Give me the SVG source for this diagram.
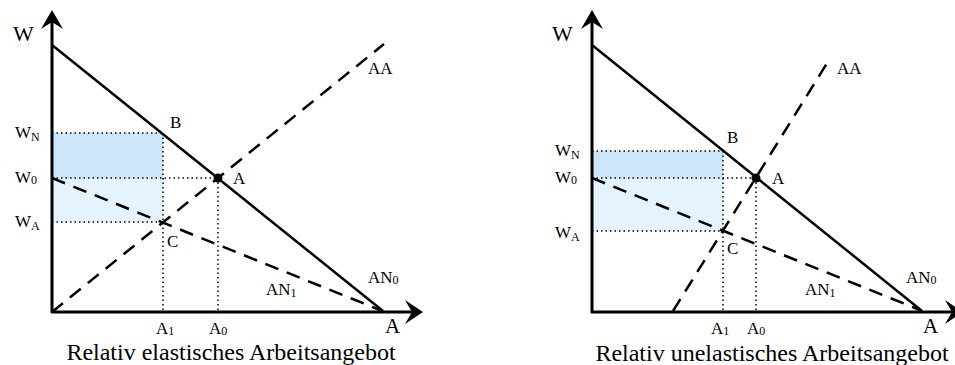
<svg xmlns="http://www.w3.org/2000/svg" width="955" height="365" viewBox="0 0 955 365">
<style>
text{font-family:"Liberation Serif","Times New Roman",serif;fill:#000}
.lbl{font-size:17px}
.big{font-size:22px}
.ax{font-size:21px}
.cap{font-size:24px;text-anchor:middle}
.sub{font-size:12px}
.axis{stroke:#000;stroke-width:3;fill:none}
.solid{stroke:#000;stroke-width:2.5;fill:none}
.dash{stroke:#000;stroke-width:2.5;fill:none;stroke-dasharray:14 9}
.dot{stroke:#000;stroke-width:1.5;fill:none;stroke-dasharray:1.5 3}
.dark{fill:#cbe6fb}
.light{fill:#e5f3fe}
.head{fill:#000}
</style>
<rect width="955" height="365" fill="#fff"/>
<g id="left-chart">
  <g id="left-areas">
    <rect class="dark" x="52" y="133" width="111" height="45"/>
    <rect class="light" x="52" y="178" width="111" height="44"/>
  </g>
  <g id="left-connectors">
    <line class="dot" x1="52" y1="133" x2="163" y2="133"/>
    <line class="dot" x1="52" y1="178" x2="218" y2="178"/>
    <line class="dot" x1="52" y1="222" x2="163" y2="222"/>
    <line class="dot" x1="163" y1="133" x2="163" y2="311"/>
    <line class="dot" x1="218" y1="178" x2="218" y2="311"/>
    <line class="solid" x1="52" y1="45" x2="383" y2="311"/>
    <line class="dash" x1="52" y1="178" x2="380" y2="310"/>
    <line class="dash" x1="52" y1="312" x2="384" y2="44"/>
    <line class="axis" x1="52" y1="313" x2="52" y2="20"/>
    <line class="axis" x1="51" y1="312" x2="413" y2="312"/>
    <polygon class="head" points="52,10 63,29 52,22 41,29"/>
    <polygon class="head" points="423,312 405,300 412,312 405,324"/>
  </g>
  <g id="left-point-A"><circle cx="218" cy="178" r="4.5" fill="#000"/></g>
  <g id="left-labels">
    <text class="big" x="13" y="41">W</text>
    <text class="lbl" x="15" y="138">W<tspan class="sub" dy="3">N</tspan></text>
    <text class="lbl" x="15" y="183">W<tspan class="sub" dy="1">0</tspan></text>
    <text class="lbl" x="15" y="227">W<tspan class="sub" dy="3">A</tspan></text>
    <text class="lbl" x="170" y="128">B</text>
    <text class="lbl" x="233" y="184">A</text>
    <text class="lbl" x="167" y="247">C</text>
    <text class="lbl" x="368" y="74">AA</text>
    <text class="lbl" x="368" y="283">AN<tspan class="sub" dy="1">0</tspan></text>
    <text class="lbl" x="266" y="295">AN<tspan class="sub" dy="2">1</tspan></text>
    <text class="lbl" x="156" y="334">A<tspan class="sub" dy="1">1</tspan></text>
    <text class="lbl" x="209" y="334">A<tspan class="sub" dy="1">0</tspan></text>
    <text class="ax" x="385" y="333">A</text>
    <text class="cap" x="231" y="360">Relativ elastisches Arbeitsangebot</text>
  </g>
</g>
<g id="right-chart">
  <g id="right-areas">
    <rect class="dark" x="592" y="151" width="131" height="27"/>
    <rect class="light" x="592" y="178" width="131" height="53"/>
  </g>
  <g id="right-connectors">
    <line class="dot" x1="592" y1="151" x2="723" y2="151"/>
    <line class="dot" x1="592" y1="178" x2="756" y2="178"/>
    <line class="dot" x1="592" y1="231" x2="723" y2="231"/>
    <line class="dot" x1="723" y1="151" x2="723" y2="311"/>
    <line class="dot" x1="756" y1="178" x2="756" y2="311"/>
    <line class="solid" x1="592" y1="45" x2="922" y2="311"/>
    <line class="dash" x1="592" y1="178" x2="920" y2="310"/>
    <line class="dash" x1="673" y1="311" x2="829" y2="60"/>
    <line class="axis" x1="592" y1="313" x2="592" y2="20"/>
    <line class="axis" x1="591" y1="312" x2="953" y2="312"/>
    <polygon class="head" points="592,10 603,29 592,22 581,29"/>
    <polygon class="head" points="963,312 945,300 952,312 945,324"/>
  </g>
  <g id="right-point-A"><circle cx="756" cy="178" r="4.5" fill="#000"/></g>
  <g id="right-labels">
    <text class="big" x="552" y="41">W</text>
    <text class="lbl" x="555" y="156">W<tspan class="sub" dy="3">N</tspan></text>
    <text class="lbl" x="555" y="183">W<tspan class="sub" dy="1">0</tspan></text>
    <text class="lbl" x="555" y="238">W<tspan class="sub" dy="3">A</tspan></text>
    <text class="lbl" x="727" y="143">B</text>
    <text class="lbl" x="772" y="184">A</text>
    <text class="lbl" x="727" y="254">C</text>
    <text class="lbl" x="837" y="74">AA</text>
    <text class="lbl" x="906" y="283">AN<tspan class="sub" dy="1">0</tspan></text>
    <text class="lbl" x="805" y="295">AN<tspan class="sub" dy="2">1</tspan></text>
    <text class="lbl" x="711" y="334">A<tspan class="sub" dy="1">1</tspan></text>
    <text class="lbl" x="747" y="334">A<tspan class="sub" dy="1">0</tspan></text>
    <text class="ax" x="923" y="333">A</text>
    <text class="cap" x="772" y="361">Relativ unelastisches Arbeitsangebot</text>
  </g>
</g>
</svg>
